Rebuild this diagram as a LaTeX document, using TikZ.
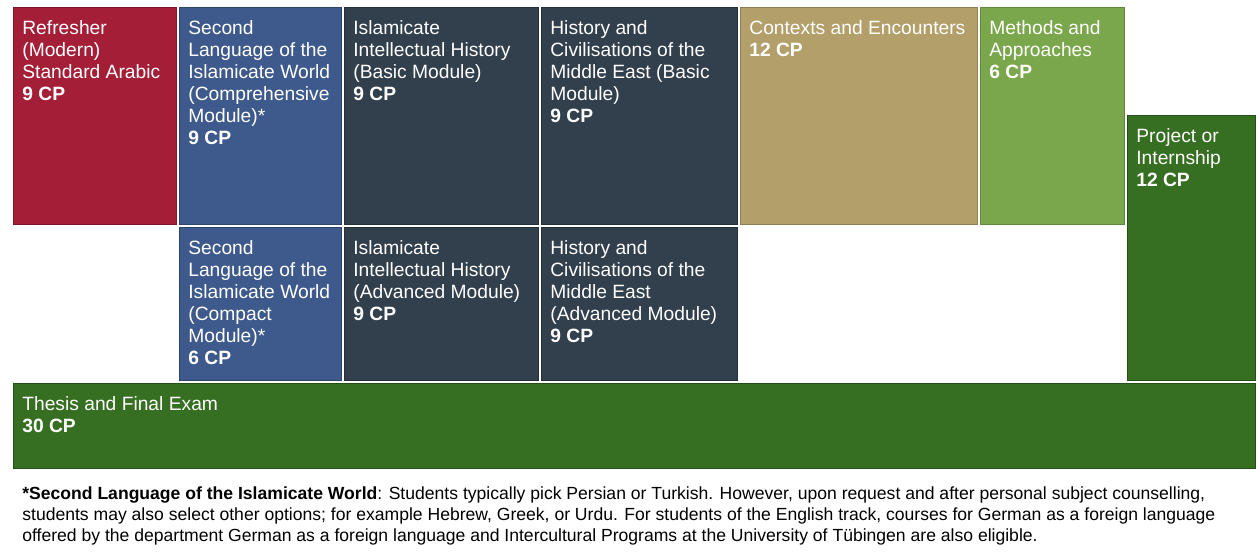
\documentclass[tikz,border=0pt]{standalone}
\usepackage{fontspec}
\setmainfont{Liberation Sans}
\usepackage{tikz}

\definecolor{arabred}{RGB}{165,30,55}
\definecolor{langblue}{RGB}{62,90,140}
\definecolor{slate}{RGB}{50,63,76}
\definecolor{tan}{RGB}{179,159,106}
\definecolor{lightgreen}{RGB}{123,167,76}
\definecolor{darkgreen}{RGB}{54,111,33}

\begin{document}
\begin{tikzpicture}[x=0.02cm,y=-0.02cm,
    modtext/.style={anchor=north west,align=left,text=white,
      inner xsep=0.18cm,inner ysep=0.27cm,
      font=\fontsize{10.95}{12.5}\selectfont}]
        \useasboundingbox (0,0) rectangle (1260,552);
        % first row of modules
        \draw[arabred!75!black,fill=arabred] (13,7) rectangle (176,224);
        \node (refresher) [modtext] at (13,7)
          {Refresher\\(Modern)\\Standard Arabic\\\textbf{9 CP}};
        \draw[langblue!75!black,fill=langblue] (179,7) rectangle (341,224);
        \node (langcomp) [modtext] at (179,7)
          {Second\\Language of the\\Islamicate World\\(Comprehensive\\Module)*\\\textbf{9 CP}};
        \draw[slate!75!black,fill=slate] (344,7) rectangle (538,224);
        \node (ihbasic) [modtext] at (344,7)
          {Islamicate\\Intellectual History\\(Basic Module)\\\textbf{9 CP}};
        \draw[slate!75!black,fill=slate] (541,7) rectangle (737,224);
        \node (hcbasic) [modtext] at (541,7)
          {History and\\Civilisations of the\\Middle East (Basic\\Module)\\\textbf{9 CP}};
        \draw[tan!80!black,fill=tan] (740,7) rectangle (977,224);
        \node (contexts) [modtext] at (740,7)
          {Contexts and Encounters\\\textbf{12 CP}};
        \draw[lightgreen!80!black,fill=lightgreen] (980,7) rectangle (1124,224);
        \node (methods) [modtext] at (980,7)
          {Methods and\\Approaches\\\textbf{6 CP}};
        \draw[darkgreen!70!black,fill=darkgreen] (1127,115) rectangle (1255,380);
        \node (project) [modtext] at (1127,115)
          {Project or\\Internship\\\textbf{12 CP}};
        % second row of modules
        \draw[langblue!75!black,fill=langblue] (179,227) rectangle (341,380);
        \node (langcompact) [modtext] at (179,227)
          {Second\\Language of the\\Islamicate World\\(Compact\\Module)*\\\textbf{6 CP}};
        \draw[slate!75!black,fill=slate] (344,227) rectangle (538,380);
        \node (ihadv) [modtext] at (344,227)
          {Islamicate\\Intellectual History\\(Advanced Module)\\\textbf{9 CP}};
        \draw[slate!75!black,fill=slate] (541,227) rectangle (737,380);
        \node (hcadv) [modtext] at (541,227)
          {History and\\Civilisations of the\\Middle East\\(Advanced Module)\\\textbf{9 CP}};
        % thesis
        \draw[darkgreen!70!black,fill=darkgreen] (13,383) rectangle (1255,468);
        \node (thesis) [modtext] at (13,383)
          {Thesis and Final Exam\\\textbf{30 CP}};
        % footnote
        \node (note) [anchor=north west,align=left,inner sep=0pt,
          font=\fontsize{10}{12.2}\selectfont] at (22,486)
          {\textbf{*Second Language of the Islamicate World}: Students typically pick Persian or Turkish. However, upon request and after personal subject counselling,\\
           students may also select other options; for example Hebrew, Greek, or Urdu. For students of the English track, courses for German as a foreign language\\
           offered by the department German as a foreign language and Intercultural Programs at the University of Tübingen are also eligible.};
\end{tikzpicture}
\end{document}
